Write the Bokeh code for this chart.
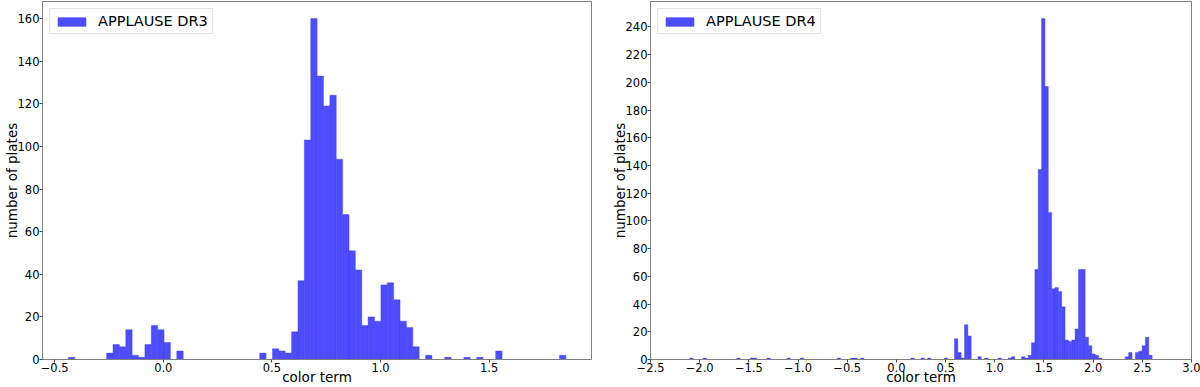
from bokeh.plotting import figure
from bokeh.models import Range1d, FixedTicker, CustomJSTickFormatter, ColumnDataSource
from bokeh.layouts import row
from bokeh.embed import file_html
from bokeh.resources import INLINE

# ---------------- data ----------------
# APPLAUSE DR3 histogram: first bin edge, bin width, counts per bin
dr3_bin_start = -0.437
dr3_bin_width = 0.02936
dr3_counts = [
    1, 0, 0, 0, 0, 0, 3, 7, 6, 14,
    2, 1, 7, 16, 14, 8, 0, 4, 0, 0,
    0, 0, 0, 0, 0, 0, 0, 0, 0, 0,
    3, 0, 5, 4, 3, 13, 37, 103, 160, 133,
    119, 124, 94, 68, 51, 42, 16, 20, 18, 35,
    36, 28, 18, 15, 6, 0, 2, 0, 0, 1,
    0, 0, 1, 0, 1, 0, 0, 4, 0, 0,
    0, 0, 0, 0, 0, 0, 0, 2,
]

# APPLAUSE DR4 histogram
dr4_bin_start = -2.1004
dr4_bin_width = 0.03406
dr4_counts = [
    1, 0, 0, 0, 1, 0, 0, 0, 0, 0,
    0, 0, 0, 0, 1, 0, 0, 0, 1, 1,
    0, 0, 0, 1, 0, 0, 0, 0, 0, 1,
    0, 0, 0, 1, 0, 0, 0, 0, 0, 0,
    0, 0, 0, 0, 1, 0, 0, 0, 1, 1,
    0, 1, 0, 0, 0, 0, 0, 0, 0, 0,
    0, 0, 0, 0, 0, 0, 1, 0, 0, 1,
    0, 1, 0, 0, 0, 0, 1, 0, 0, 15,
    5, 1, 25, 17, 0, 0, 2, 0, 1, 0,
    0, 0, 1, 0, 0, 1, 2, 0, 0, 2,
    1, 3, 12, 65, 137, 246, 197, 106, 51, 52,
    49, 38, 14, 13, 14, 22, 65, 65, 16, 10,
    4, 3, 1, 0, 0, 0, 0, 0, 0, 0,
    2, 5, 0, 5, 6, 10, 16, 3,
]

dr3_xticks = [-0.5, 0.0, 0.5, 1.0, 1.5]
dr3_yticks = [0, 20, 40, 60, 80, 100, 120, 140, 160]
dr4_xticks = [-2.5, -2.0, -1.5, -1.0, -0.5, 0.0, 0.5, 1.0, 1.5, 2.0, 2.5, 3.0]
dr4_yticks = [0, 20, 40, 60, 80, 100, 120, 140, 160, 180, 200, 220, 240]

x_label = "color term"
y_label = "number of plates"

# ---------------- styling ----------------
FONT = "DejaVu Sans"
BAR = "#4d4dff"
SPINE = "#808080"


def hist_source(start, width, counts):
    left = [start + i * width for i in range(len(counts))]
    right = [l + width for l in left]
    return ColumnDataSource(dict(left=left, right=right, top=counts, bottom=[0] * len(counts)))


def make_panel(start, width, counts, label, xr, yr, xticks, yticks, w, bl, br):
    p = figure(width=w, height=387, x_range=Range1d(*xr), y_range=Range1d(*yr),
               output_backend="svg", toolbar_location=None,
               min_border_left=bl, min_border_right=br, min_border_top=1, min_border_bottom=28)
    src = hist_source(start, width, counts)
    p.quad(left="left", right="right", top="top", bottom="bottom", source=src,
           fill_color=BAR, fill_alpha=1.0, line_color="#3b3bf0", line_width=0.4,
           legend_label=label)
    p.xgrid.visible = False
    p.ygrid.visible = False
    p.outline_line_color = SPINE
    p.outline_line_width = 1
    p.background_fill_color = "white"
    p.border_fill_color = "white"

    p.xaxis.ticker = FixedTicker(ticks=xticks)
    p.yaxis.ticker = FixedTicker(ticks=yticks)
    p.xaxis.formatter = CustomJSTickFormatter(code="return tick.toFixed(1).replace('-', '\u2212');")
    p.xaxis.axis_label = x_label
    p.yaxis.axis_label = y_label
    for ax in (p.xaxis[0], p.yaxis[0]):
        ax.axis_line_color = SPINE
        ax.major_tick_line_color = "#444444"
        ax.major_tick_in = 0
        ax.major_tick_out = 3
        ax.minor_tick_line_color = None
        ax.major_label_text_font = FONT
        ax.major_label_text_font_size = "11.5px"
        ax.major_label_text_color = "black"
        ax.axis_label_text_font = FONT
        ax.axis_label_text_font_size = "13.5px"
        ax.axis_label_text_font_style = "normal"
        ax.axis_label_text_color = "black"
    p.xaxis.major_label_standoff = 0
    p.xaxis.axis_label_standoff = -6
    p.yaxis.major_label_standoff = 0
    p.yaxis.axis_label_standoff = -5

    lg = p.legend[0]
    lg.location = "top_left"
    lg.margin = 7
    lg.padding = 4
    lg.spacing = 0
    lg.glyph_width = 35
    lg.glyph_height = 11
    lg.label_standoff = 9
    lg.label_height = 14
    lg.label_text_font = FONT
    lg.label_text_font_size = "14.5px"
    lg.label_text_line_height = 1.0
    lg.label_text_color = "black"
    lg.border_line_color = "#cccccc"
    lg.border_line_width = 1
    lg.background_fill_alpha = 0.8
    return p


dr3_ymax = max(dr3_counts) * 1.05
dr4_ymax = max(dr4_counts) * 1.05

p1 = make_panel(dr3_bin_start, dr3_bin_width, dr3_counts, "APPLAUSE DR3",
                (-0.556, 1.971), (0, dr3_ymax), dr3_xticks, dr3_yticks, 600, 40, 9)
p2 = make_panel(dr4_bin_start, dr4_bin_width, dr4_counts, "APPLAUSE DR4",
                (-2.5, 3.0), (0, dr4_ymax), dr4_xticks, dr4_yticks, 600, 50, 9)

layout = row(p1, p2)
open("out.html", "w").write(file_html(layout, INLINE))
